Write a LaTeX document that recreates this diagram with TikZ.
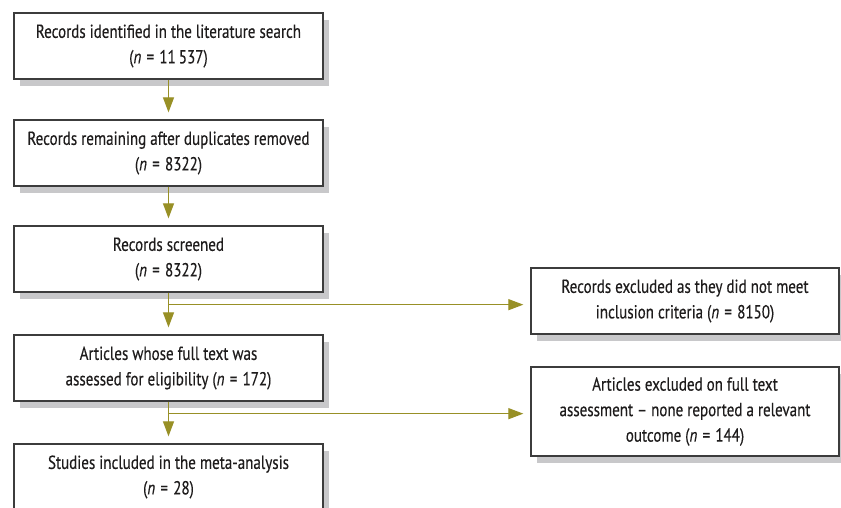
\documentclass[tikz,border=0pt]{standalone}
\usepackage{fontspec}
\setmainfont{PT Sans}[FakeStretch=0.8, FakeBold=0.3]
\usetikzlibrary{arrows.meta, shadows}
\definecolor{boxline}{RGB}{60,60,60}
\definecolor{shadowgray}{RGB}{200,200,202}
\definecolor{flowolive}{RGB}{152,144,38}
\definecolor{inktext}{RGB}{30,28,28}

\begin{document}
\begin{tikzpicture}[x=1pt,y=-1pt,
    box/.style={draw=boxline, line width=1.3pt, fill=white, text=inktext, align=center,
        minimum width=309pt, minimum height=66pt, inner sep=0pt,
        font=\fontsize{18.8}{25.5}\selectfont,
        drop shadow={shadow xshift=6pt, shadow yshift=-7pt, fill=shadowgray, opacity=1}},
    flow/.style={draw=flowolive, line width=1.2pt, -{Triangle[length=15pt,width=11pt]}, shorten >=7pt}]
    \clip (0,0) rectangle (841,507);
    \fill[white] (0,0) rectangle (841,507);
    % main column
    \node[box] (rec1) at (168.5,46) {Records identified in the literature search\\(\textit{n}\;=\;11\,537)};
    \node[box] (rec2) at (168.5,153) {Records remaining after duplicates removed\\(\textit{n}\;=\;8322)};
    \node[box] (rec3) at (168.5,259) {Records screened\\(\textit{n}\;=\;8322)};
    \node[box] (rec4) at (168.5,368) {Articles whose full text was\\assessed for eligibility (\textit{n}\;=\;172)};
    \node[box] (rec5) at (168.5,477) {Studies included in the meta-analysis\\(\textit{n}\;=\;28)};
    % exclusions
    \node[box, minimum width=308pt] (exA) at (685,301) {Records excluded as they did not meet\\inclusion criteria (\textit{n}\;=\;8150)};
    \node[box, minimum width=308pt, minimum height=89pt] (exB) at (685,411.5) {Articles excluded on full text\\assessment -- none reported a relevant\\outcome (\textit{n}\;=\;144)};
    \path (rec3.south) ++(0,12) coordinate (cut1);
    \path (rec4.south) ++(0,12) coordinate (cut2);
    \draw[flow] (rec1) -- (rec2);
    \draw[flow] (rec2) -- (rec3);
    \draw[flow] (rec3) -- (rec4);
    \draw[flow] (rec4) -- (rec5);
    \draw[flow] (cut1) -- (cut1 -| exA.west);
    \draw[flow] (cut2) -- (cut2 -| exB.west);
\end{tikzpicture}
\end{document}
